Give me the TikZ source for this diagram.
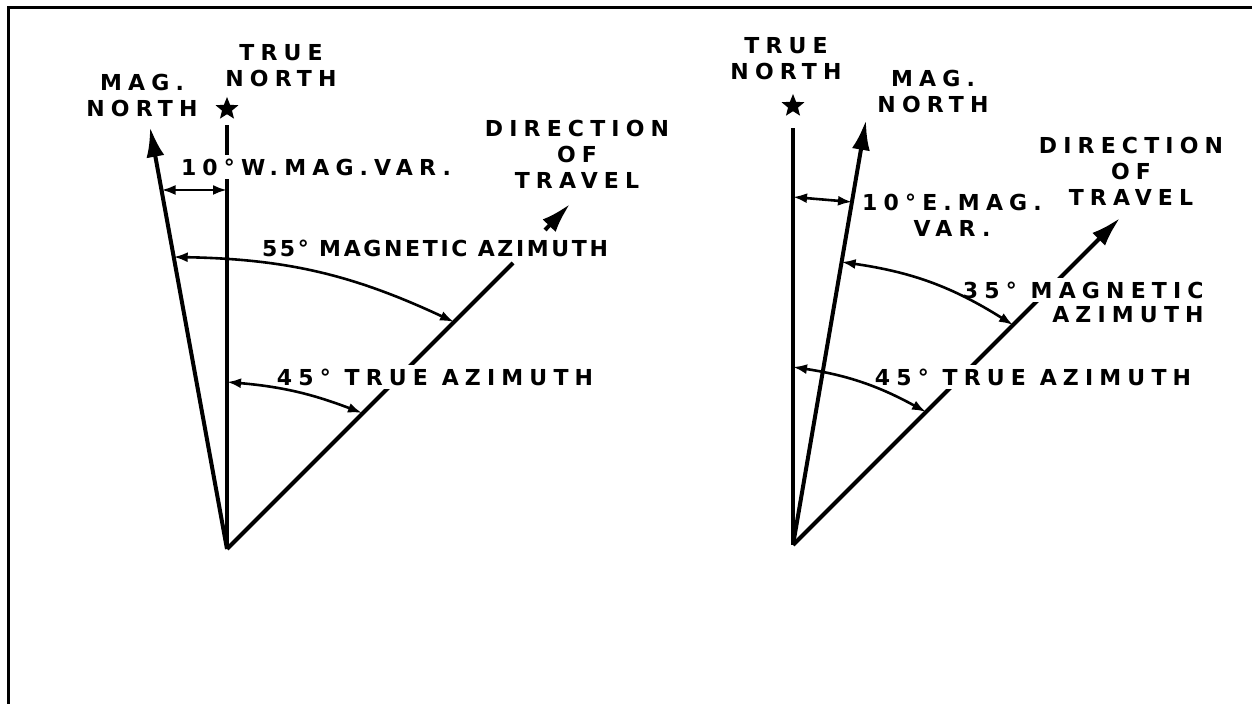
\documentclass[tikz,border=0pt]{standalone}
\usepackage{fontspec}
\newfontfamily\stencil[LetterSpace=28]{DejaVu Sans}
\newfontfamily\stenciltight[LetterSpace=12]{DejaVu Sans}
\usetikzlibrary{arrows.meta,shapes.geometric}

\begin{document}
\begin{tikzpicture}[x=0.5pt, y=0.5pt,
  axis/.style={line width=2pt},
  north/.style={axis, -{Latex[length=15pt,width=9pt]}},
  sweep/.style={line width=1.3pt, {Latex[length=7pt,width=5pt]}-{Latex[length=7pt,width=5pt]}},
  lbl/.style={font=\stencil\bfseries\fontsize{11}{13}\selectfont, align=center, inner sep=2pt},
  tightlbl/.style={lbl, font=\stenciltight\bfseries\fontsize{11}{13}\selectfont},
  cut/.style={lbl, fill=white},
  polestar/.style={star, star points=5, star point ratio=2.3, fill, minimum size=12pt, inner sep=0pt}]
\useasboundingbox (0,0) rectangle (1252,704);
\draw[line width=1.5pt] (8,0) |- (1252,696);
% left: west variation
\coordinate (O1) at (227,155);
\coordinate (tnL) at (227,579);
\coordinate (mnL) at (150,577);
\coordinate (d1a) at (513,441);
\coordinate (d1b) at (545,474);
\coordinate (d1tip) at (570,500);
\node[polestar] (starL) at (227,595) {};
\draw[axis] (O1) -- (tnL);
\draw[north] (O1) -- (mnL);
\draw[axis] (O1) -- (d1a);
\draw[north] (d1b) -- (d1tip);
\node[lbl] (tnTxtL) at (281,638) {TRUE\\NORTH};
\node[lbl] (mnTxtL) at (142,608) {MAG.\\NORTH};
\node[lbl] (dirTxtL) at (577,550) {DIRECTION\\OF\\TRAVEL};
\node[cut] (varL) at (316,537) {10°W.MAG.VAR.};
\node[tightlbl] (magAzL) at (435,456) {55° MAGNETIC AZIMUTH};
\node[cut] (trueAzL) at (435,327) {45° TRUE AZIMUTH};
\coordinate (v1) at (161.5,514);
\coordinate (v2) at (227,514);
\coordinate (m1) at (173.7,447);
\coordinate (m2) at (454,382);
\coordinate (t1) at (227,322);
\coordinate (t2) at (362,291);
\draw[sweep] (v1) -- (v2);
\draw[sweep] (m1) to[bend left=12] (m2);
\draw[sweep] (t1) to[bend left=8] (t2);
% right: east variation
\coordinate (O2) at (793,159);
\coordinate (tnR) at (793,576);
\coordinate (mnR) at (866,584);
\coordinate (d2tip) at (1120,486);
\node[polestar] (starR) at (793,598) {};
\draw[axis] (O2) -- (tnR);
\draw[north] (O2) -- (mnR);
\draw[north] (O2) -- (d2tip);
\node[lbl] (tnTxtR) at (786,645) {TRUE\\NORTH};
\node[lbl] (mnTxtR) at (933,612) {MAG.\\NORTH};
\node[lbl] (dirTxtR) at (1131,533) {DIRECTION\\OF\\TRAVEL};
\node[lbl] (varR) at (952,489) {10°E.MAG.\\VAR.};
\node[cut, anchor=east] (magAzR) at (1208,414) {35° MAGNETIC};
\node[lbl, anchor=east] (magAzR2) at (1208,389) {AZIMUTH};
\node[cut] (trueAzR) at (1033,327) {45° TRUE AZIMUTH};
\coordinate (e1) at (793,507);
\coordinate (e2) at (852,502);
\coordinate (n1) at (841.6,442);
\coordinate (n2) at (1013,379);
\coordinate (r1) at (793,337);
\coordinate (r2) at (926,292);
\draw[sweep] (e1) -- (e2);
\draw[sweep] (n1) to[bend left=12] (n2);
\draw[sweep] (r1) to[bend left=10] (r2);
\end{tikzpicture}
\end{document}
